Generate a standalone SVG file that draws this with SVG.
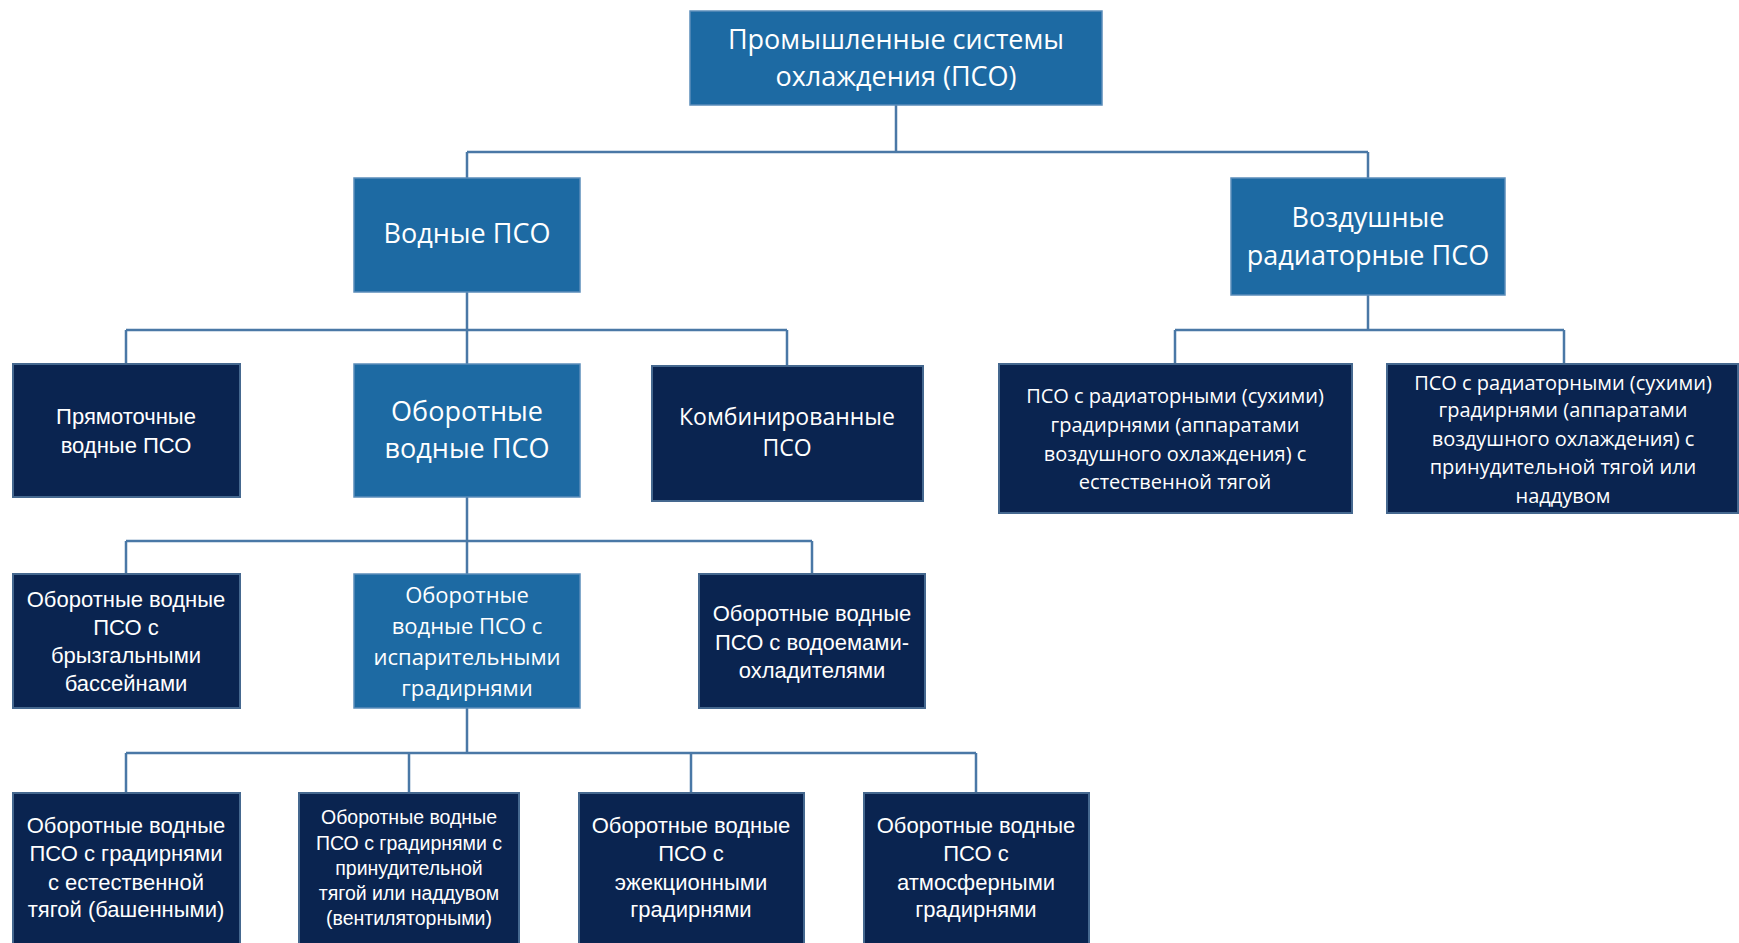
<svg xmlns="http://www.w3.org/2000/svg" width="1739" height="943" viewBox="0 0 1739 943">
<style>
.bg{fill:#ffffff}
.lb{fill:#1d6aa3;stroke:#5b8dba;stroke-width:1.5}
.db{fill:#0a2450;stroke:#45688f;stroke-width:2}
.c{fill:none;stroke:#4a78a6;stroke-width:2.5}
.tc{font-family:"Open Sans","Noto Sans",sans-serif;fill:#ffffff;text-anchor:middle}
.ta{font-family:"Liberation Sans",Arial,sans-serif;fill:#ffffff;text-anchor:middle}
</style>
<rect class="bg" x="0" y="0" width="1739" height="943"/>
<g id="connectors">
<path class="c" d="M896 105V152M467 152H1368M467 152V178M1368 152V178"/>
<path class="c" d="M467 292V330M126 330H787M126 330V364M467 330V364M787 330V366"/>
<path class="c" d="M1368 295V330M1175 330H1564M1175 330V364M1564 330V364"/>
<path class="c" d="M467 497V541M126 541H812M126 541V574M467 541V574M812 541V574"/>
<path class="c" d="M467 708V753M126 753H976M126 753V793M409 753V793M691 753V793M976 753V793"/>
</g>
<g id="n-top">
<rect class="lb" x="690" y="11" width="412" height="94"/>
<text class="tc" font-size="27" x="896" y="49">Промышленные системы</text>
<text class="tc" font-size="27" x="896" y="86">охлаждения (ПСО)</text>
</g>
<g id="n-water">
<rect class="lb" x="354" y="178" width="226" height="114"/>
<text class="tc" font-size="27" x="467" y="243">Водные ПСО</text>
</g>
<g id="n-air">
<rect class="lb" x="1231" y="178" width="274" height="117"/>
<text class="tc" font-size="27" x="1368" y="227">Воздушные</text>
<text class="tc" font-size="27" x="1368" y="265">радиаторные ПСО</text>
</g>
<g id="n-direct">
<rect class="db" x="13" y="364" width="227" height="133"/>
<text class="ta" font-size="22" x="126" y="424">Прямоточные</text>
<text class="ta" font-size="22" x="126" y="453">водные ПСО</text>
</g>
<g id="n-recirc">
<rect class="lb" x="354" y="364" width="226" height="133"/>
<text class="tc" font-size="27" x="467" y="421">Оборотные</text>
<text class="tc" font-size="27" x="467" y="458">водные ПСО</text>
</g>
<g id="n-combined">
<rect class="db" x="652" y="366" width="271" height="135"/>
<text class="tc" font-size="23" x="787" y="425">Комбинированные</text>
<text class="tc" font-size="23" x="787" y="456">ПСО</text>
</g>
<g id="n-rad-natural">
<rect class="db" x="999" y="364" width="353" height="149"/>
<text class="tc" font-size="20" x="1175" y="403">ПСО с радиаторными (сухими)</text>
<text class="tc" font-size="20" x="1175" y="432">градирнями (аппаратами</text>
<text class="tc" font-size="20" x="1175" y="461">воздушного охлаждения) с</text>
<text class="tc" font-size="20" x="1175" y="489">естественной тягой</text>
</g>
<g id="n-rad-forced">
<rect class="db" x="1387" y="364" width="351" height="149"/>
<text class="tc" font-size="20" x="1563" y="390">ПСО с радиаторными (сухими)</text>
<text class="tc" font-size="20" x="1563" y="417">градирнями (аппаратами</text>
<text class="tc" font-size="20" x="1563" y="446">воздушного охлаждения) с</text>
<text class="tc" font-size="20" x="1563" y="474">принудительной тягой или</text>
<text class="tc" font-size="20" x="1563" y="503">наддувом</text>
</g>
<g id="n-spray">
<rect class="db" x="13" y="574" width="227" height="134"/>
<text class="ta" font-size="22" x="126" y="607">Оборотные водные</text>
<text class="ta" font-size="22" x="126" y="635">ПСО с</text>
<text class="ta" font-size="22" x="126" y="663">брызгальными</text>
<text class="ta" font-size="22" x="126" y="691">бассейнами</text>
</g>
<g id="n-evap">
<rect class="lb" x="354" y="574" width="226" height="134"/>
<text class="tc" font-size="22" x="467" y="603">Оборотные</text>
<text class="tc" font-size="22" x="467" y="634">водные ПСО с</text>
<text class="tc" font-size="22" x="467" y="665">испарительными</text>
<text class="tc" font-size="22" x="467" y="696">градирнями</text>
</g>
<g id="n-pond">
<rect class="db" x="699" y="574" width="226" height="134"/>
<text class="ta" font-size="22" x="812" y="621">Оборотные водные</text>
<text class="ta" font-size="22" x="812" y="650">ПСО с водоемами-</text>
<text class="ta" font-size="22" x="812" y="678">охладителями</text>
</g>
<g id="n-tower-natural">
<rect class="db" x="13" y="793" width="227" height="165"/>
<text class="ta" font-size="22" x="126" y="833">Оборотные водные</text>
<text class="ta" font-size="22" x="126" y="861">ПСО с градирнями</text>
<text class="ta" font-size="22" x="126" y="890">с естественной</text>
<text class="ta" font-size="22" x="126" y="917">тягой (башенными)</text>
</g>
<g id="n-tower-fan">
<rect class="db" x="299" y="793" width="220" height="165"/>
<text class="ta" font-size="19.5" x="409" y="824">Оборотные водные</text>
<text class="ta" font-size="19.5" x="409" y="850">ПСО с градирнями с</text>
<text class="ta" font-size="19.5" x="409" y="875">принудительной</text>
<text class="ta" font-size="19.5" x="409" y="900">тягой или наддувом</text>
<text class="ta" font-size="19.5" x="409" y="925">(вентиляторными)</text>
</g>
<g id="n-ejector">
<rect class="db" x="579" y="793" width="225" height="165"/>
<text class="ta" font-size="22" x="691" y="833">Оборотные водные</text>
<text class="ta" font-size="22" x="691" y="861">ПСО с</text>
<text class="ta" font-size="22" x="691" y="890">эжекционными</text>
<text class="ta" font-size="22" x="691" y="917">градирнями</text>
</g>
<g id="n-atmos">
<rect class="db" x="864" y="793" width="225" height="165"/>
<text class="ta" font-size="22" x="976" y="833">Оборотные водные</text>
<text class="ta" font-size="22" x="976" y="861">ПСО с</text>
<text class="ta" font-size="22" x="976" y="890">атмосферными</text>
<text class="ta" font-size="22" x="976" y="917">градирнями</text>
</g>
</svg>
